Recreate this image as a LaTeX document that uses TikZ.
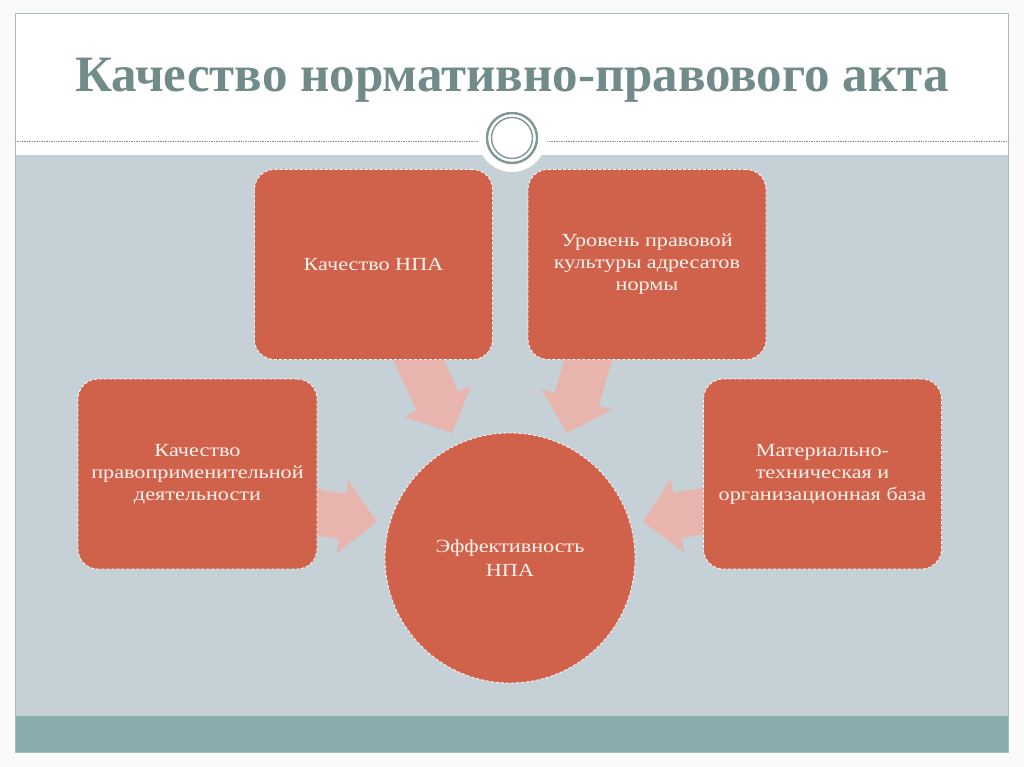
\documentclass[tikz,border=0pt]{standalone}
\usepackage{fontspec}
\setmainfont{Liberation Serif}
\newfontfamily\boxfont[FakeStretch=1.2]{Liberation Serif}
\newfontfamily\titlefont[FakeStretch=1.0]{Liberation Serif}
\usetikzlibrary{arrows.meta}
\definecolor{boxred}{HTML}{D0614A}
\definecolor{panelgray}{HTML}{C5D1D7}
\definecolor{bandteal}{HTML}{8AACAC}
\definecolor{titlecol}{HTML}{708B89}
\definecolor{framecol}{HTML}{A8BCBC}
\definecolor{arrowpink}{HTML}{E7B5AD}
\definecolor{ringcol}{HTML}{7D9897}
\definecolor{textcream}{HTML}{FDF3EE}
\tikzset{
  factor/.style={draw=white, densely dashed, line width=0.8pt, fill=boxred,
    rounded corners=20pt, text=textcream, align=center,
    font=\boxfont\fontsize{18.5}{22}\selectfont},
  result/.style={circle, draw=white, densely dashed, line width=0.8pt, fill=boxred,
    text=textcream, align=center, font=\boxfont\fontsize{18.5}{24}\selectfont},
  bigarrow/.style={draw=arrowpink, line width=46pt,
    -{Triangle[length=35pt, width=72pt]}},
}
\begin{document}
\begin{tikzpicture}[x=1pt,y=-1pt]
\useasboundingbox (0,0) rectangle (1024,767);
\fill[white!98!black] (0,0) rectangle (1024,767);
% slide frame
\fill[white] (15,14) rectangle (1008,752);
\fill[panelgray] (15,155) rectangle (1008,716);
\fill[bandteal] (15,716) rectangle (1008,752);
\draw[framecol, line width=1pt] (15,14) rectangle (1008,752);
\draw[black!45, densely dotted, line width=0.7pt] (15,141) -- (1008,141);
% title
\node[font=\titlefont\bfseries\fontsize{51}{56}\selectfont, text=titlecol] (title) at (512,80) {Качество нормативно-правового акта};
% ring ornament
\fill[white] (512,138) circle (34);
\draw[ringcol, line width=2.4pt] (512,138) circle (25);
\draw[ringcol, line width=1.4pt] (512,138) circle (20.5);
% coordinates for arrows
\coordinate (a1s) at (405,330);
\coordinate (a1t) at (452,433);
\coordinate (a2s) at (597,330);
\coordinate (a2t) at (567,433);
\coordinate (a3s) at (290,508);
\coordinate (a3t) at (377,522);
\coordinate (a4s) at (730,506);
\coordinate (a4t) at (643,522);
\draw[bigarrow] (a1s) -- (a1t);
\draw[bigarrow] (a2s) -- (a2t);
\draw[bigarrow] (a3s) -- (a3t);
\draw[bigarrow] (a4s) -- (a4t);
% boxes
\node[factor, minimum width=238pt, minimum height=190pt] (q) at (373.5,264.5) {Качество НПА};
\node[factor, minimum width=238pt, minimum height=190pt] (c) at (647,264.5) {Уровень правовой\\культуры адресатов\\нормы};
\node[factor, minimum width=239pt, minimum height=190pt] (p) at (197.5,474) {Качество\\правоприменительной\\деятельности};
\node[factor, minimum width=238pt, minimum height=190pt] (m) at (822.5,474) {Материально-\\техническая и\\организационная база};
\node[result, minimum size=250pt, inner sep=0pt] (e) at (510,558) {Эффективность\\НПА};
\end{tikzpicture}
\end{document}
